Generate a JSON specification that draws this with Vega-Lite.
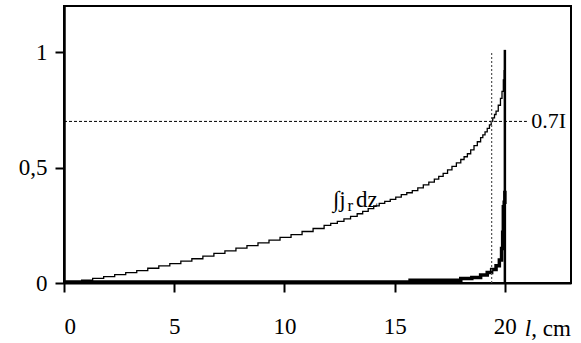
{
  "$schema": "https://vega.github.io/schema/vega-lite/v6.json",
  "width": 507,
  "height": 277,
  "autosize": {"type": "none"},
  "padding": {"left": 64, "top": 6, "right": 10, "bottom": 60},
  "background": "white",
  "config": {
    "view": {"stroke": "black", "strokeWidth": 2},
    "font": "Liberation Serif",
    "axis": {"grid": false, "labelColor": "black", "tickColor": "black", "domainColor": "black", "tickWidth": 2, "tickSize": 9}
  },
  "datasets": {
    "integral": [
      {"x": 0, "y": 0.002}, {"x": 0.8, "y": 0.012}, {"x": 1.3, "y": 0.02}, {"x": 1.8, "y": 0.028},
      {"x": 2.3, "y": 0.036}, {"x": 2.8, "y": 0.045}, {"x": 3.3, "y": 0.054}, {"x": 3.8, "y": 0.064},
      {"x": 4.3, "y": 0.074}, {"x": 4.8, "y": 0.084}, {"x": 5.3, "y": 0.095}, {"x": 5.8, "y": 0.105},
      {"x": 6.3, "y": 0.116}, {"x": 6.8, "y": 0.128}, {"x": 7.3, "y": 0.139}, {"x": 7.8, "y": 0.151},
      {"x": 8.3, "y": 0.162}, {"x": 8.8, "y": 0.174}, {"x": 9.3, "y": 0.186}, {"x": 9.8, "y": 0.198},
      {"x": 10.3, "y": 0.21}, {"x": 10.8, "y": 0.223}, {"x": 11.3, "y": 0.236}, {"x": 11.8, "y": 0.25},
      {"x": 12.1, "y": 0.258}, {"x": 12.4, "y": 0.267}, {"x": 12.7, "y": 0.278}, {"x": 13.0, "y": 0.289},
      {"x": 13.3, "y": 0.3}, {"x": 13.55, "y": 0.31}, {"x": 13.8, "y": 0.322}, {"x": 14.05, "y": 0.334},
      {"x": 14.3, "y": 0.345}, {"x": 14.55, "y": 0.354}, {"x": 14.8, "y": 0.362}, {"x": 15.05, "y": 0.372},
      {"x": 15.3, "y": 0.383}, {"x": 15.55, "y": 0.391}, {"x": 15.8, "y": 0.4}, {"x": 16.05, "y": 0.412},
      {"x": 16.3, "y": 0.425}, {"x": 16.55, "y": 0.437}, {"x": 16.8, "y": 0.45}, {"x": 17.0, "y": 0.462},
      {"x": 17.2, "y": 0.475}, {"x": 17.4, "y": 0.49}, {"x": 17.6, "y": 0.505}, {"x": 17.8, "y": 0.52},
      {"x": 18.0, "y": 0.535}, {"x": 18.15, "y": 0.547}, {"x": 18.3, "y": 0.56}, {"x": 18.45, "y": 0.577},
      {"x": 18.6, "y": 0.595}, {"x": 18.75, "y": 0.612}, {"x": 18.9, "y": 0.63}, {"x": 19.0, "y": 0.642},
      {"x": 19.1, "y": 0.655}, {"x": 19.2, "y": 0.67}, {"x": 19.3, "y": 0.685}, {"x": 19.38, "y": 0.7},
      {"x": 19.45, "y": 0.715}, {"x": 19.53, "y": 0.73}, {"x": 19.6, "y": 0.745}, {"x": 19.7, "y": 0.77},
      {"x": 19.8, "y": 0.8}, {"x": 19.87, "y": 0.83}, {"x": 19.93, "y": 0.88},
      {"x": 19.97, "y": 0.92}, {"x": 20.0, "y": 0.92}
    ],
    "density": [
      {"x": 0, "y": 0.004}, {"x": 15.6, "y": 0.004}, {"x": 15.7, "y": 0.012}, {"x": 17.9, "y": 0.012},
      {"x": 18.0, "y": 0.02}, {"x": 18.5, "y": 0.024}, {"x": 18.9, "y": 0.035}, {"x": 19.2, "y": 0.045},
      {"x": 19.4, "y": 0.058}, {"x": 19.6, "y": 0.075}, {"x": 19.75, "y": 0.1}, {"x": 19.85, "y": 0.15},
      {"x": 19.9, "y": 0.22}, {"x": 19.93, "y": 0.33}, {"x": 19.97, "y": 0.35}, {"x": 20.0, "y": 0.4}
    ],
    "hline": [{"x": 0, "x2": 21, "y": 0.7}],
    "vdot": [{"x": 19.4, "y": 0, "y2": 1.0}],
    "vsolid": [{"x": 20, "y": 0, "y2": 1.01}]
  },
  "layer": [
    {
      "data": {"name": "density"},
      "mark": {"type": "line", "color": "black", "strokeWidth": 3.5, "interpolate": "step-after"},
      "encoding": {
        "x": {"field": "x", "type": "quantitative", "scale": {"domain": [0, 23], "nice": false},
          "axis": {"values": [0, 5, 10, 15, 20], "title": null, "domainWidth": 2, "labelPadding": 23, "labelFont": "Liberation Serif", "labelFontSize": 23}},
        "y": {"field": "y", "type": "quantitative", "scale": {"domain": [0, 1.2], "nice": false},
          "axis": {"values": [0, 0.5, 1], "title": null, "domainWidth": 2.5, "labelPadding": 8, "labelFont": "Liberation Serif", "labelFontSize": 23, "labelExpr": "replace(toString(datum.value), '.', ',')"}}
      }
    },
    {
      "data": {"name": "integral"},
      "mark": {"type": "line", "color": "black", "strokeWidth": 1.3, "interpolate": "step-after"},
      "encoding": {
        "x": {"field": "x", "type": "quantitative"},
        "y": {"field": "y", "type": "quantitative"}
      }
    },
    {
      "data": {"name": "hline"},
      "mark": {"type": "rule", "color": "black", "strokeWidth": 1, "strokeDash": [3, 2]},
      "encoding": {
        "x": {"field": "x", "type": "quantitative"},
        "x2": {"field": "x2"},
        "y": {"field": "y", "type": "quantitative"}
      }
    },
    {
      "data": {"name": "vdot"},
      "mark": {"type": "rule", "color": "#555555", "strokeWidth": 1.2, "strokeDash": [2, 2]},
      "encoding": {
        "x": {"field": "x", "type": "quantitative"},
        "y": {"field": "y", "type": "quantitative"},
        "y2": {"field": "y2"}
      }
    },
    {
      "data": {"name": "vsolid"},
      "mark": {"type": "rule", "color": "black", "strokeWidth": 2.5},
      "encoding": {
        "x": {"field": "x", "type": "quantitative"},
        "y": {"field": "y", "type": "quantitative"},
        "y2": {"field": "y2"}
      }
    },
    {
      "data": {"values": [{"x": 21.2, "y": 0.7, "t": "0.7I"}]},
      "mark": {"type": "text", "align": "left", "baseline": "middle", "fontSize": 22, "font": "Liberation Serif", "color": "black"},
      "encoding": {"x": {"field": "x", "type": "quantitative"}, "y": {"field": "y", "type": "quantitative"}, "text": {"field": "t"}}
    },
    {
      "data": {"values": [{"x": 12.2, "y": 0.33, "t": "∫j"}, {"x": 13.25, "y": 0.33, "t": "dz"}]},
      "mark": {"type": "text", "align": "left", "baseline": "alphabetic", "fontSize": 23, "font": "Liberation Serif", "color": "black"},
      "encoding": {"x": {"field": "x", "type": "quantitative"}, "y": {"field": "y", "type": "quantitative"}, "text": {"field": "t"}}
    },
    {
      "data": {"values": [{"x": 12.86, "y": 0.31, "t": "r"}]},
      "mark": {"type": "text", "align": "left", "baseline": "alphabetic", "fontSize": 17, "font": "Liberation Serif", "color": "black"},
      "encoding": {"x": {"field": "x", "type": "quantitative"}, "y": {"field": "y", "type": "quantitative"}, "text": {"field": "t"}}
    },
    {
      "data": {"values": [{"x": 20.9, "y": -0.2, "t": "l"}]},
      "mark": {"type": "text", "align": "left", "baseline": "middle", "fontSize": 23, "font": "Liberation Serif", "fontStyle": "italic", "color": "black"},
      "encoding": {"x": {"field": "x", "type": "quantitative"}, "y": {"field": "y", "type": "quantitative"}, "text": {"field": "t"}}
    },
    {
      "data": {"values": [{"x": 21.2, "y": -0.2, "t": ", cm"}]},
      "mark": {"type": "text", "align": "left", "baseline": "middle", "fontSize": 23, "font": "Liberation Serif", "color": "black"},
      "encoding": {"x": {"field": "x", "type": "quantitative"}, "y": {"field": "y", "type": "quantitative"}, "text": {"field": "t"}}
    }
  ]
}
